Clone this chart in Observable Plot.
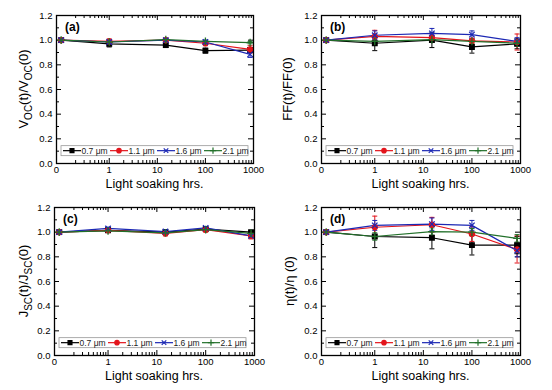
<!DOCTYPE html>
<html><head><meta charset="utf-8">
<script src="https://cdn.jsdelivr.net/npm/d3@7"></script>
<script src="https://cdn.jsdelivr.net/npm/@observablehq/plot@0.6"></script>
<style>
body{margin:0;background:#fff}
#root{position:relative;width:552px;height:390px;font-family:"Liberation Sans",Arial,sans-serif;overflow:hidden}
#root svg{position:absolute;overflow:visible}
</style></head><body><div id="root"></div>
<script>
// ---- data ----
const hours = [0.1, 1, 15, 100, 850];
const xTickValues = [0.08, 1, 10, 100, 1000];
const xTickLabels = ["0", "1", "10", "100", "1000"];
const yTickValues = [0, 0.2, 0.4, 0.6, 0.8, 1.0, 1.2];
const yMinorValues = [0.1, 0.3, 0.5, 0.7, 0.9, 1.1];
const seriesNames = ["0.7 μm", "1.1 μm", "1.6 μm", "2.1 μm"];
const seriesColors = ["#000000", "#e3141b", "#1c28b4", "#22702a"];
const seriesSymbols = ["square", "circle", "times", "plus"];

// (a) Voc
const voc07 = [1.0, 0.97, 0.96, 0.915, 0.92];
const voc07Err = [0.01, 0.025, 0.02, 0.02, 0.02];
const voc11 = [1.0, 0.99, 1.0, 0.975, 0.925];
const voc11Err = [0.01, 0.02, 0.015, 0.02, 0.03];
const voc16 = [1.0, 0.985, 1.0, 0.985, 0.885];
const voc16Err = [0.01, 0.015, 0.015, 0.015, 0.025];
const voc21 = [1.0, 0.985, 1.005, 0.99, 0.98];
const voc21Err = [0.01, 0.01, 0.01, 0.01, 0.01];
// (b) FF
const ff07 = [1.0, 0.975, 1.0, 0.945, 0.97];
const ff07Err = [0.01, 0.06, 0.06, 0.05, 0.04];
const ff11 = [1.0, 1.03, 1.02, 0.995, 0.985];
const ff11Err = [0.01, 0.05, 0.03, 0.02, 0.065];
const ff16 = [1.0, 1.04, 1.055, 1.045, 0.99];
const ff16Err = [0.01, 0.035, 0.04, 0.03, 0.03];
const ff21 = [1.0, 0.99, 1.005, 0.99, 0.975];
const ff21Err = [0.01, 0.02, 0.02, 0.02, 0.02];
// (c) Jsc
const jsc07 = [1.0, 1.015, 1.0, 1.025, 1.0];
const jsc07Err = [0.01, 0.01, 0.01, 0.01, 0.01];
const jsc11 = [1.0, 1.015, 0.99, 1.02, 0.97];
const jsc11Err = [0.01, 0.015, 0.02, 0.02, 0.025];
const jsc16 = [1.0, 1.03, 1.005, 1.035, 0.97];
const jsc16Err = [0.01, 0.01, 0.015, 0.01, 0.015];
const jsc21 = [1.0, 1.01, 0.995, 1.02, 0.99];
const jsc21Err = [0.01, 0.01, 0.01, 0.01, 0.01];
// (d) efficiency
const eta07 = [1.0, 0.965, 0.955, 0.895, 0.895];
const eta07Err = [0.01, 0.09, 0.09, 0.08, 0.07];
const eta11 = [1.0, 1.04, 1.06, 0.985, 0.86];
const eta11Err = [0.01, 0.09, 0.06, 0.06, 0.11];
const eta16 = [1.0, 1.055, 1.065, 1.055, 0.85];
const eta16Err = [0.01, 0.04, 0.05, 0.04, 0.05];
const eta21 = [1.0, 0.965, 1.005, 1.0, 0.95];
const eta21Err = [0.01, 0.03, 0.03, 0.03, 0.03];

// ---- layout (pixels) ----
const panels = [
  {letter: "(a)", left: 0, top: 0, ml: 56, mr: 23, mt: 15, mb: 32, labelX: 25,
   ylabel: [["V", 0], ["OC", 1], ["(t)/V", 0], ["OC", 1], ["(0)", 0]],
   vals: [voc07, voc11, voc16, voc21], errs: [voc07Err, voc11Err, voc16Err, voc21Err]},
  {letter: "(b)", left: 276, top: 0, ml: 45, mr: 32, mt: 15, mb: 32, labelX: 13,
   ylabel: [["FF(t)/FF(0)", 0]],
   vals: [ff07, ff11, ff16, ff21], errs: [ff07Err, ff11Err, ff16Err, ff21Err]},
  {letter: "(c)", left: 0, top: 195, ml: 54, mr: 22, mt: 12, mb: 35, labelX: 25,
   ylabel: [["J", 0], ["SC", 1], ["(t)/J", 0], ["SC", 1], ["(0)", 0]],
   vals: [jsc07, jsc11, jsc16, jsc21], errs: [jsc07Err, jsc11Err, jsc16Err, jsc21Err]},
  {letter: "(d)", left: 276, top: 195, ml: 45, mr: 32, mt: 12, mb: 35, labelX: 15,
   ylabel: [["η(t)/η (0)", 0]],
   vals: [eta07, eta11, eta16, eta21], errs: [eta07Err, eta11Err, eta16Err, eta21Err]}
];

const minorX = [];
[0.1, 1, 10, 100].forEach(d => { for (let k = 2; k <= 9; k++) minorX.push(+(d * k).toPrecision(3)); });

const capSymbol = {draw(ctx, size) { const r = Math.sqrt(size / Math.PI); ctx.moveTo(-r, 0); ctx.lineTo(r, 0); }};
const FONT = '"Liberation Sans", Arial, sans-serif';
const root = document.getElementById("root");

panels.forEach(p => {
  const W = 276, H = 195;
  const fw = W - p.ml - p.mr, fh = H - p.mt - p.mb;
  const rows = [];
  p.vals.forEach((vs, si) => vs.forEach((v, i) => rows.push({x: hours[i], y: v, e: p.errs[si][i], s: seriesNames[si]})));
  const plot = Plot.plot({
    width: W, height: H,
    marginLeft: p.ml, marginRight: p.mr, marginTop: p.mt, marginBottom: p.mb,
    style: {fontFamily: FONT, fontSize: "9px", background: "transparent", color: "#000"},
    x: {type: "log", domain: [0.08, 1000], axis: null},
    y: {domain: [0, 1.2], axis: null},
    color: {domain: seriesNames, range: seriesColors},
    symbol: {domain: seriesNames, range: seriesSymbols},
    marks: [
      Plot.tickX(xTickValues.slice(1, 4), {x: d => d, insetTop: fh - 5, stroke: "#000"}),
      Plot.tickX(xTickValues.slice(1, 4), {x: d => d, insetBottom: fh - 5, stroke: "#000"}),
      Plot.tickX(minorX, {x: d => d, insetTop: fh - 3, stroke: "#000"}),
      Plot.tickX(minorX, {x: d => d, insetBottom: fh - 3, stroke: "#000"}),
      Plot.tickY(yTickValues, {y: d => d, insetRight: fw - 5, stroke: "#000"}),
      Plot.tickY(yTickValues, {y: d => d, insetLeft: fw - 5, stroke: "#000"}),
      Plot.tickY(yMinorValues, {y: d => d, insetRight: fw - 3, stroke: "#000"}),
      Plot.tickY(yMinorValues, {y: d => d, insetLeft: fw - 3, stroke: "#000"}),
      Plot.text(xTickValues, {x: d => d, frameAnchor: "bottom", dy: 9, fontSize: 9.5,
        text: d => xTickLabels[xTickValues.indexOf(d)], fill: "#000"}),
      Plot.text(yTickValues, {y: d => d, frameAnchor: "left", dx: -4, textAnchor: "end", fontSize: 9.5,
        text: d => d3.format(".1f")(d), fill: "#000"}),
      Plot.ruleX(rows, {x: "x", y1: d => d.y - d.e, y2: d => d.y + d.e, stroke: "s", strokeWidth: 1}),
      Plot.dot(rows, {x: "x", y: d => d.y + d.e, symbol: capSymbol, r: 2.5, stroke: "s", fill: "none", strokeWidth: 1}),
      Plot.dot(rows, {x: "x", y: d => d.y - d.e, symbol: capSymbol, r: 2.5, stroke: "s", fill: "none", strokeWidth: 1}),
      Plot.line(rows, {x: "x", y: "y", z: "s", stroke: "s", strokeWidth: 1.2}),
      Plot.dot(rows, {x: "x", y: "y", symbol: "s", stroke: "s", fill: "s", r: 2.6, strokeWidth: 1.3}),
      Plot.frame({stroke: "#000", strokeWidth: 1.3})
    ]
  });
  plot.style.left = p.left + "px";
  plot.style.top = p.top + "px";
  root.appendChild(plot);
  const svg = d3.select(plot);

  // y label with subscripts
  const ty = svg.append("text")
    .attr("transform", `translate(${p.labelX},${p.mt + fh / 2}) rotate(-90)`)
    .attr("text-anchor", "middle").attr("dominant-baseline", "middle")
    .attr("font-family", FONT).attr("font-size", 13).attr("fill", "#000");
  let shifted = false;
  p.ylabel.forEach(([t, sub]) => {
    const span = ty.append("tspan").text(t);
    if (sub && !shifted) { span.attr("dy", 3.5).attr("font-size", 10); shifted = true; }
    else if (sub) { span.attr("font-size", 10); }
    else if (!sub && shifted) { span.attr("dy", -3.5); shifted = false; }
  });

  // x label
  svg.append("text").attr("x", p.ml + fw / 2).attr("y", p.mt + fh + 25)
    .attr("text-anchor", "middle").attr("font-family", FONT).attr("font-size", 12.5)
    .attr("fill", "#000").text("Light soaking hrs.");

  // panel letter
  svg.append("text").attr("x", p.ml + 9).attr("y", p.mt + 16).attr("text-anchor", "start")
    .attr("font-family", FONT).attr("font-size", 12).attr("font-weight", "bold")
    .attr("fill", "#000").text(p.letter);

  // legend
  const itemW = 47, lw = itemW * 4 - 1, lh = 10;
  const ly = p.mt + fh * (1 - 0.1 / 1.2);
  const g = svg.append("g").attr("transform", `translate(${p.ml + 5},${ly - lh / 2})`);
  g.append("rect").attr("width", lw).attr("height", lh).attr("fill", "#fff")
    .attr("stroke", "#999").attr("stroke-width", 0.8);
  const symTypes = {square: d3.symbolSquare, circle: d3.symbolCircle, times: d3.symbolTimes, plus: d3.symbolPlus};
  seriesNames.forEach((name, i) => {
    const gi = g.append("g").attr("transform", `translate(${2 + i * itemW},${lh / 2})`);
    gi.append("line").attr("x1", 0).attr("x2", 18).attr("stroke", seriesColors[i]).attr("stroke-width", 1.2);
    gi.append("path").attr("transform", "translate(9,0)")
      .attr("d", d3.symbol(symTypes[seriesSymbols[i]], 2.2 * 2.2 * Math.PI)())
      .attr("fill", seriesColors[i]).attr("stroke", seriesColors[i]).attr("stroke-width", 1.2);
    gi.append("text").attr("x", 18.5).attr("dy", "0.35em").attr("text-anchor", "start")
      .attr("font-family", FONT).attr("font-size", 8.5).attr("fill", "#222").text(name);
  });
});
</script>
</body></html>
